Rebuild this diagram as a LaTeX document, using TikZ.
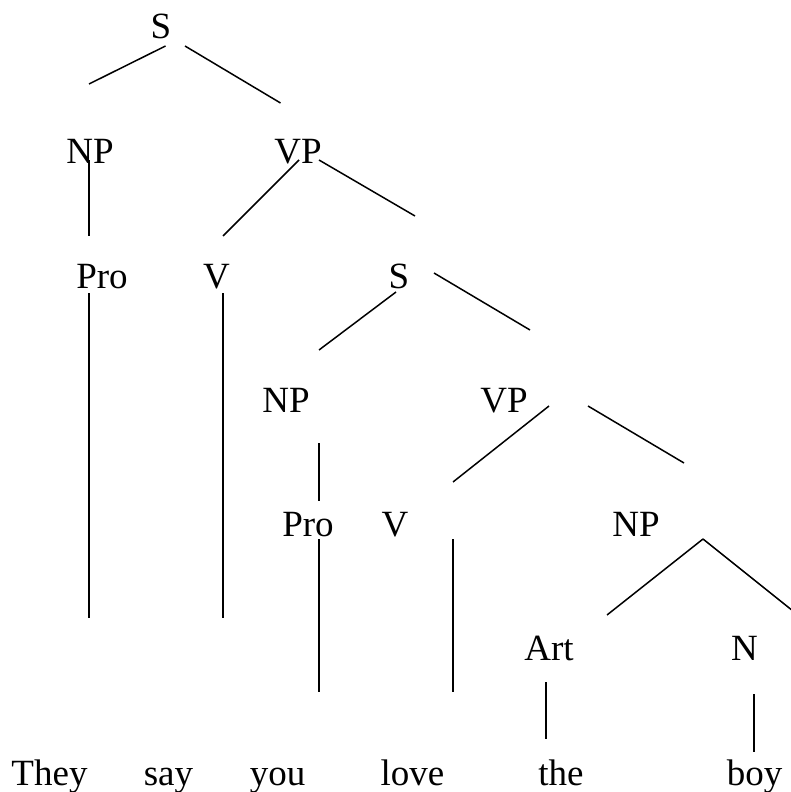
\documentclass[tikz,border=0pt]{standalone}
\usepackage{fontspec}
\setmainfont{Liberation Serif}
\begin{document}
\begin{tikzpicture}[x=1pt,y=-1pt,
  lbl/.style={inner sep=0pt, anchor=base, font=\fontsize{37}{44}\selectfont},
  branch/.style={line width=1.5pt, line cap=butt}]
\useasboundingbox (0,0) rectangle (791,792);

% category labels
\node[lbl] (S1)   at (161,38)    {S};
\node[lbl] (NP1)  at (90,163)    {NP};
\node[lbl] (VP1)  at (298,163)   {VP};
\node[lbl] (Pro1) at (102,288)   {Pro};
\node[lbl] (V1)   at (216.5,288) {V};
\node[lbl] (S2)   at (399,288)   {S};
\node[lbl] (NP2)  at (286,412)   {NP};
\node[lbl] (VP2)  at (504,412)   {VP};
\node[lbl] (Pro2) at (308,536)   {Pro};
\node[lbl] (V2)   at (395,536)   {V};
\node[lbl] (NP3)  at (636,536)   {NP};
\node[lbl] (Art)  at (549,660)   {Art};
\node[lbl] (N)    at (744.5,660) {N};

% words
\node[lbl] (w1) at (49.5,785)  {They};
\node[lbl] (w2) at (168.5,785) {say};
\node[lbl] (w3) at (277.5,785) {you};
\node[lbl] (w4) at (412.5,785) {love};
\node[lbl] (w5) at (561,785)   {the};
\node[lbl] (w6) at (754.5,785) {boy};

% branches
\draw[branch] ([shift={(4.5,8)}]S1.base)   -- ([shift={(-1,-79)}]NP1.base);
\draw[branch] ([shift={(24,8)}]S1.base)    -- ([shift={(-17.5,-60)}]VP1.base);
\draw[branch] ([shift={(-1,-3)}]NP1.base)  -- ([shift={(-13,-52)}]Pro1.base);
\draw[branch] ([shift={(1,-3)}]VP1.base)   -- ([shift={(6.5,-52)}]V1.base);
\draw[branch] ([shift={(21,-3)}]VP1.base)  -- ([shift={(16,-72)}]S2.base);
\draw[branch] ([shift={(-13,5)}]Pro1.base) -- ([shift={(39.5,-167)}]w1.base);
\draw[branch] ([shift={(6.5,5)}]V1.base)   -- ([shift={(54.5,-167)}]w2.base);
\draw[branch] ([shift={(-3,4)}]S2.base)    -- ([shift={(33,-62)}]NP2.base);
\draw[branch] ([shift={(35,-15)}]S2.base)  -- ([shift={(26,-82)}]VP2.base);
\draw[branch] ([shift={(33,31)}]NP2.base)  -- ([shift={(11,-35)}]Pro2.base);
\draw[branch] ([shift={(11,3)}]Pro2.base)  -- ([shift={(41.5,-93)}]w3.base);
\draw[branch] ([shift={(45,-6)}]VP2.base)  -- ([shift={(58,-54)}]V2.base);
\draw[branch] ([shift={(84,-6)}]VP2.base)  -- ([shift={(48,-73)}]NP3.base);
\draw[branch] ([shift={(58,3)}]V2.base)    -- ([shift={(40.5,-93)}]w4.base);
\draw[branch] ([shift={(67,3)}]NP3.base)   -- ([shift={(58,-45)}]Art.base);
\draw[branch] ([shift={(67,3)}]NP3.base)   -- ([shift={(53.5,-45)}]N.base);
\draw[branch] ([shift={(-3,22)}]Art.base)  -- ([shift={(-15,-46)}]w5.base);
\draw[branch] ([shift={(9.5,34)}]N.base)   -- ([shift={(-0.5,-33)}]w6.base);
\end{tikzpicture}
\end{document}
